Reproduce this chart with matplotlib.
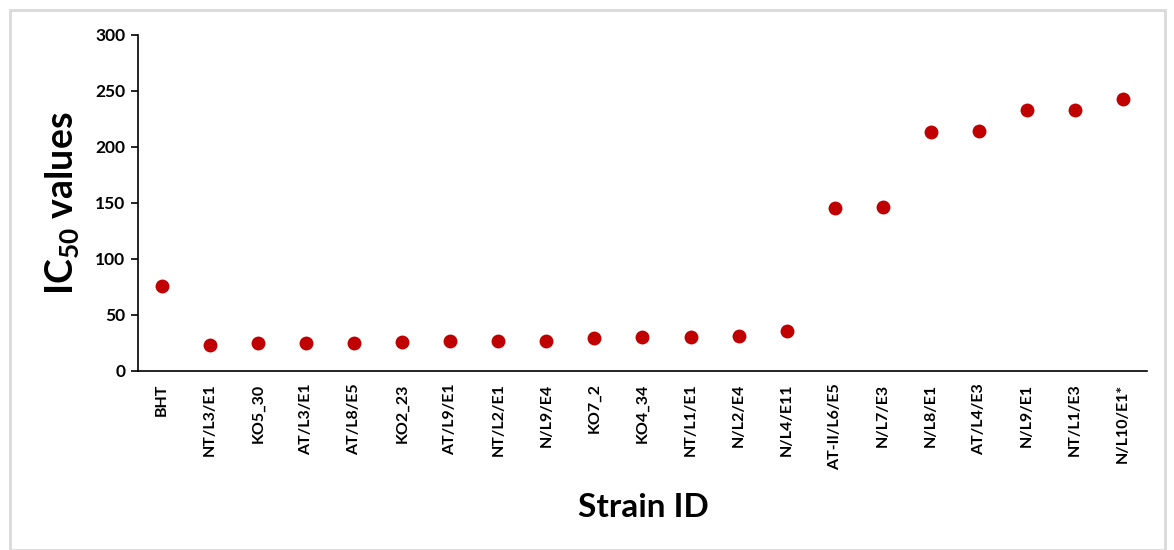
import matplotlib.pyplot as plt
from matplotlib.patches import Rectangle

strains = ["BHT", "NT/L3/E1", "KO5_30", "AT/L3/E1", "AT/L8/E5", "KO2_23",
           "AT/L9/E1", "NT/L2/E1", "N/L9/E4", "KO7_2", "KO4_34", "NT/L1/E1",
           "N/L2/E4", "N/L4/E11", "AT-II/L6/E5", "N/L7/E3", "N/L8/E1",
           "AT/L4/E3", "N/L9/E1", "NT/L1/E3", "N/L10/E1*"]
ic50 = [76, 23.2, 25, 25.3, 25.3, 26, 26.5, 27, 27, 29, 30, 30.5, 31, 36,
        145.5, 146, 213, 214, 233, 233, 243]
yticks = [0, 50, 100, 150, 200, 250, 300]

plt.rcParams['font.family'] = ['Lato', 'DejaVu Sans']
plt.rcParams['font.weight'] = 'bold'
plt.rcParams['mathtext.default'] = 'regular'

fig = plt.figure(figsize=(11.74, 5.5), dpi=100)
ax = fig.add_axes([0.1175, 0.3255, 0.8595, 0.6109])

x = list(range(len(strains)))
ax.scatter(x, ic50, s=100, color='#C00000', zorder=3, linewidths=0)

ax.set_xlim(-0.5, len(strains) - 0.5)
ax.set_ylim(0, 300)
ax.set_yticks(yticks)
ax.set_xticks(x)
ax.set_xticklabels(strains, rotation=90, fontsize=11.5, fontweight='bold')
ax.tick_params(axis='x', length=0, pad=9)
ax.tick_params(axis='y', length=5, width=1.2, labelsize=12.5, pad=4)
for lbl in ax.get_yticklabels():
    lbl.set_fontweight('bold')

for s in ['top', 'right']:
    ax.spines[s].set_visible(False)
ax.spines['left'].set_linewidth(1.2)
ax.spines['bottom'].set_linewidth(1.2)

ax.set_ylabel('IC$_{50}$ values', fontsize=27, fontweight='bold', labelpad=10)
fig.text(0.548, 0.078, 'Strain ID', ha='center', va='center',
         fontsize=24, fontweight='bold')

fig.patches.append(Rectangle((10 / 1174, 0), 1155 / 1174, 540 / 550,
                             transform=fig.transFigure, fill=False,
                             edgecolor='#d9d9d9', linewidth=2))

fig.savefig('out.png', dpi=100)
